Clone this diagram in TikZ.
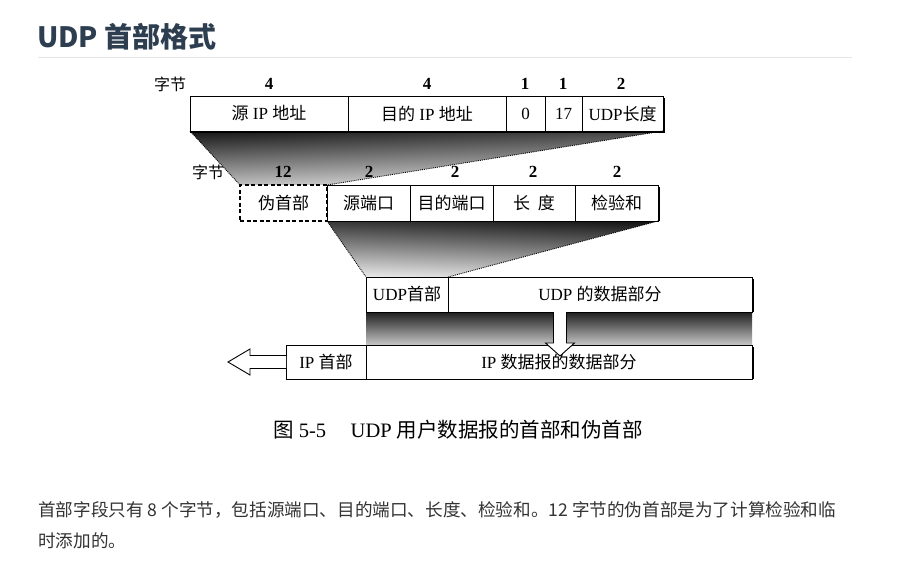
\documentclass[tikz,border=0pt]{standalone}
\usepackage{fontspec}
\setmainfont{Liberation Serif}
\newfontfamily\cjk{Noto Sans CJK SC}
\newcommand\zh[1]{{\cjk #1}}
\definecolor{titlecol}{HTML}{2C3E50}
\definecolor{bodycol}{HTML}{333333}
\pgfdeclarelayer{bg}
\pgfsetlayers{bg,main}
\tikzset{
  cell/.style={draw, line width=0.9pt, inner sep=0pt, outer sep=0pt, anchor=north west,
    fill=white, font=\fontsize{17}{19}\selectfont},
  lbl/.style={inner sep=0pt, font=\fontsize{17}{19}\selectfont\bfseries},
  zlbl/.style={inner sep=0pt, font=\cjk\fontsize{16}{18}\selectfont},
  edgedot/.style={densely dotted, line width=0.9pt},
  shadowbar/.style={fill=black},
  hollow/.style={draw, fill=white, line width=0.9pt, line join=miter},
}
\begin{document}
\begin{tikzpicture}[x=1pt,y=-1pt]
\useasboundingbox (0,0) rectangle (919,562);

% title
\node[anchor=west, inner sep=0pt, text=titlecol,
  font=\cjk\bfseries\fontsize{28}{30}\selectfont] (title) at (37,37) {UDP 首部格式};
\draw[black!10, line width=0.8pt] (38,57.5) -- (852,57.5);

% row 1
\node[cell, minimum width=158, minimum height=35] (sip) at (190,96) {\zh{源} IP \zh{地址}};
\node[cell, minimum width=158, minimum height=35] (dip) at (sip.north east) {\zh{目的} IP \zh{地址}};
\node[cell, minimum width=39, minimum height=35] (zero) at (dip.north east) {0};
\node[cell, minimum width=37, minimum height=35] (proto) at (zero.north east) {17};
\node[cell, minimum width=81, minimum height=35] (ulen) at (proto.north east) {UDP\zh{长度}};
\node[zlbl] (b1) at (170,84) {字节};
\node[lbl] (n1) at (269,84) {4};
\node[lbl] (n2) at (427,84) {4};
\node[lbl] (n3) at (525,84) {1};
\node[lbl] (n4) at (563,84) {1};
\node[lbl] (n5) at (621,84) {2};

% row 2
\node[cell, dash pattern=on 4pt off 2.5pt, line width=1.1pt, minimum width=87, minimum height=36] (pseudo) at (240,185) {\zh{伪首部}};
\node[cell, minimum width=83, minimum height=36] (sport) at (pseudo.north east) {\zh{源端口}};
\node[cell, minimum width=83, minimum height=36] (dport) at (sport.north east) {\zh{目的端口}};
\node[cell, minimum width=82, minimum height=36] (len) at (dport.north east) {\zh{长\ \ 度}};
\node[cell, minimum width=83, minimum height=36] (csum) at (len.north east) {\zh{检验和}};
\node[zlbl] (b2) at (208,172) {字节};
\node[lbl] (m1) at (283,172) {12};
\node[lbl] (m2) at (369,172) {2};
\node[lbl] (m3) at (455,172) {2};
\node[lbl] (m4) at (533,172) {2};
\node[lbl] (m5) at (617,172) {2};

% row 3
\node[cell, minimum width=82, minimum height=35] (uhdr) at (366,277) {UDP\zh{首部}};
\node[cell, minimum width=304, minimum height=35] (udata) at (uhdr.north east) {UDP \zh{的数据部分}};

% row 4
\node[cell, minimum width=80, minimum height=34] (iphdr) at (286,345) {IP \zh{首部}};
\node[cell, minimum width=386, minimum height=34] (ipdata) at (iphdr.north east) {IP \zh{数据报的数据部分}};

% shadings
\begin{pgfonlayer}{bg}
  \fill[white] (0,0) rectangle (919,562);
  \shade[top color=black!90, bottom color=black!8, shading angle=2]
    (sip.south west) -- (ulen.south east) -- (pseudo.north east) -- (pseudo.north west) -- cycle;
  \shade[top color=black!92, bottom color=black!8, shading angle=-2]
    (sport.south west) -- (csum.south east) -- (uhdr.north east) -- (uhdr.north west) -- cycle;
  \shade[top color=black!88, bottom color=black!22]
    (uhdr.south west) rectangle (ipdata.north east);
\end{pgfonlayer}

% shadows on box edges
\fill[shadowbar] (sip.south west) rectangle ([xshift=2pt,yshift=-2pt]ulen.south east);
\fill[shadowbar] ([yshift=-2pt]ulen.north east) rectangle ([xshift=2pt]ulen.south east);
\fill[shadowbar] ([yshift=-2pt]csum.north east) rectangle ([xshift=1.5pt]csum.south east);
\fill[shadowbar] ([yshift=-2pt]udata.north east) rectangle ([xshift=1.8pt]udata.south east);
\fill[shadowbar] ([yshift=-2pt]ipdata.north east) rectangle ([xshift=1.8pt]ipdata.south east);

% dotted trapezoid edges
\draw[edgedot] (sip.south west) -- (pseudo.north west);
\draw[edgedot] (ulen.south east) -- (pseudo.north east);
\draw[edgedot] (sport.south west) -- (uhdr.north west);
\draw[edgedot] (csum.south east) -- (uhdr.north east);

% hollow arrows
\draw[hollow] (iphdr.west) ++(0,-6.5) -- ++(-36,0) -- ++(0,-6.5) -- ++(-22,13)
  -- ++(22,13) -- ++(0,-6.5) -- ++(36,0);
\coordinate (dtop) at (udata.south west -| 560,0);
\draw[hollow] ([xshift=-6.5pt]dtop) -- ++(0,31) -- ++(-8,0) -- ++(14.5,13) -- ++(14.5,-13)
  -- ++(-8,0) -- ++(0,-31);

% caption
\node[inner sep=0pt, font=\fontsize{20.5}{22}\selectfont] (cap) at (458,430)
  {\zh{图} 5-5\hspace{1.2em}UDP \zh{用户数据报的首部和伪首部}};

% body text
\node[anchor=west, inner sep=0pt, text=bodycol, font=\cjk\fontsize{17.6}{20}\selectfont] (body1) at (38,510)
  {首部字段只有 8 个字节，包括源端口、目的端口、长度、检验和。12 字节的伪首部是为了计算检验和临};
\node[anchor=west, inner sep=0pt, text=bodycol, font=\cjk\fontsize{17.6}{20}\selectfont] (body2) at (38,541)
  {时添加的。};
\end{tikzpicture}
\end{document}
